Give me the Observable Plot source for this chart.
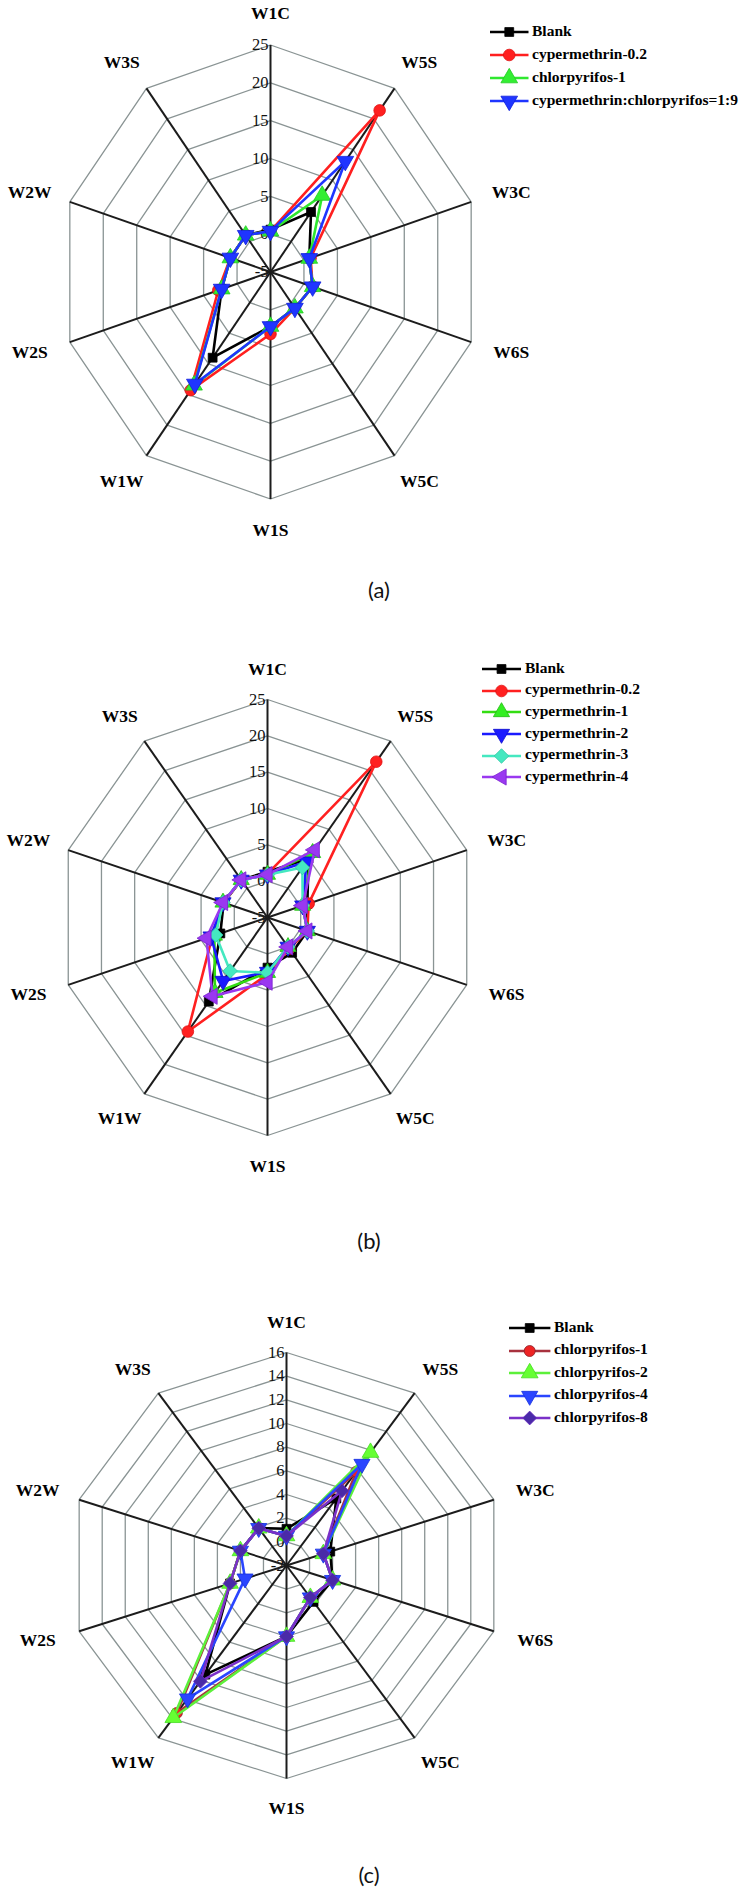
<!DOCTYPE html>
<html><head><meta charset="utf-8">
<script src="https://cdn.jsdelivr.net/npm/d3@7"></script>
<script src="https://cdn.jsdelivr.net/npm/@observablehq/plot@0.6"></script>
<style>
html,body{margin:0;padding:0;background:#fff;}
#root{position:relative;width:744px;height:1887px;overflow:hidden;background:#fff;}
.panel{position:absolute;left:0;width:744px;}
.legrow{position:absolute;white-space:nowrap;font-family:"Liberation Serif",serif;font-weight:bold;font-size:15.5px;color:#000;line-height:16px;}
.caption{position:absolute;font-family:Lato,"Open Sans",sans-serif;font-size:22px;color:#111;transform:translate(-50%,-50%);}
</style></head><body><div id="root"></div>
<script>
// Axis (spoke) labels, clockwise from top
const axisLabels = ["W1C","W5S","W3C","W6S","W5C","W1S","W1W","W2S","W2W","W3S"];

// Panel (a)
const ticksA = [-5, 0, 5, 10, 15, 20, 25];
const namesA = ["Blank","cypermethrin-0.2","chlorpyrifos-1","cypermethrin:chlorpyrifos=1:9"];
const blankA = [0.6, 4.8, 0.8, 1.3, 0.9, 2.2, 9.0, 2.3, 1.0, 1.0];
const cyp02A = [0.4, 21.4, 1.0, 1.3, 0.9, 3.2, 14.3, 2.8, 1.0, 1.0];
const chl1A  = [0.4, 7.5, 0.8, 1.3, 0.9, 2.2, 13.5, 2.3, 1.0, 1.0];
const mixA   = [0.4, 13.1, 0.8, 1.3, 0.9, 2.2, 13.3, 2.3, 1.0, 1.0];

// Panel (b)
const ticksB = [-5, 0, 5, 10, 15, 20, 25];
const namesB = ["Blank","cypermethrin-0.2","cypermethrin-1","cypermethrin-2","cypermethrin-3","cypermethrin-4"];
const blankB = [1.3, 5.0, 1.0, 1.0, 1.0, 1.9, 9.3, 2.1, 1.6, 1.4];
const cyp02B = [1.0, 21.5, 1.2, 1.0, 0.3, 2.8, 14.4, 3.3, 1.6, 1.4];
const cyp1B  = [0.9, 6.0, 0.3, 1.0, 0.0, 2.6, 7.8, 3.0, 1.7, 1.4];
const cyp2B  = [0.9, 4.5, 0.3, 1.0, 0.0, 2.5, 5.8, 3.5, 1.7, 1.4];
const cyp3B  = [0.9, 3.5, 0.3, 1.0, 0.0, 2.6, 4.1, 2.8, 1.7, 1.4];
const cyp4B  = [0.9, 6.5, 0.3, 1.0, 0.0, 3.9, 8.4, 4.2, 1.7, 1.4];

// Panel (c)
const ticksC = [-2, 0, 2, 4, 6, 8, 10, 12, 14, 16];
const namesC = ["Blank","chlorpyrifos-1","chlorpyrifos-2","chlorpyrifos-4","chlorpyrifos-8"];
const blankC = [1.1, 5.0, 1.8, 2.0, 1.8, 4.0, 9.4, 2.9, 2.0, 1.9];
const chl1C  = [0.5, 7.8, 1.2, 2.0, 1.35, 4.0, 13.4, 2.9, 2.0, 1.9];
const chl2C  = [0.5, 9.8, 1.2, 2.0, 1.35, 4.0, 13.9, 2.9, 2.0, 1.9];
const chl4C  = [0.5, 8.6, 1.2, 2.0, 1.35, 4.0, 11.9, 1.6, 2.0, 1.9];
const chl8C  = [0.5, 5.8, 1.2, 2.0, 1.35, 4.0, 10.1, 2.9, 2.0, 1.9];

const captions = ["(a)", "(b)", "(c)"];

// custom marker shapes
const S3 = Math.sqrt(3);
const triDown = {draw(ctx, size){ const R = Math.sqrt(size/(3*S3/4)); const h = R*S3/2;
  ctx.moveTo(0, R); ctx.lineTo(h, -R/2); ctx.lineTo(-h, -R/2); ctx.closePath(); }};
const triUp = {draw(ctx, size){ const R = Math.sqrt(size/(3*S3/4)); const h = R*S3/2;
  ctx.moveTo(0, -R); ctx.lineTo(h, R/2); ctx.lineTo(-h, R/2); ctx.closePath(); }};
const triLeft = {draw(ctx, size){ const R = Math.sqrt(size/(3*S3/4)); const h = R*S3/2;
  ctx.moveTo(-R, 0); ctx.lineTo(R/2, h); ctx.lineTo(R/2, -h); ctx.closePath(); }};
const diamondSq = {draw(ctx, size){ const a = Math.sqrt(size/2);
  ctx.moveTo(0, -a); ctx.lineTo(a, 0); ctx.lineTo(0, a); ctx.lineTo(-a, 0); ctx.closePath(); }};
const squareSym = {draw(ctx, size){ const a = Math.sqrt(size)/2;
  ctx.moveTo(-a, -a); ctx.lineTo(a, -a); ctx.lineTo(a, a); ctx.lineTo(-a, a); ctx.closePath(); }};
const circleSym = d3.symbolCircle;

const panels = [
  {top: 0, h: 646, cx: 270, cy: 271.5, rx: 211, ry: 227, ticks: ticksA,
   leg: {x: 489.5, tx: 532, y0: 31, dy: 23},
   cap: {x: 379, y: 589},
   series: [
     {name: namesA[0], values: blankA, color: "#000000", fill: "#000000", edge: "#000000", symbol: squareSym, r: 5},
     {name: namesA[1], values: cyp02A, color: "#ff1f1f", fill: "#ff2020", edge: "#e01010", symbol: circleSym, r: 5.8},
     {name: namesA[2], values: chl1A, color: "#2fe82f", fill: "#33ee33", edge: "#22cc22", symbol: triUp, r: 6.2},
     {name: namesA[3], values: mixA, color: "#1f35ff", fill: "#1f35ff", edge: "#1020dd", symbol: triDown, r: 6.2}
   ]},
  {top: 646, h: 646, cx: 267, cy: 271, rx: 209.5, ry: 218, ticks: ticksB,
   leg: {x: 482, tx: 525, y0: 21.5, dy: 21.7},
   cap: {x: 369, y: 594},
   series: [
     {name: namesB[0], values: blankB, color: "#000000", fill: "#000000", edge: "#000000", symbol: squareSym, r: 5},
     {name: namesB[1], values: cyp02B, color: "#ff2020", fill: "#ff2020", edge: "#e01010", symbol: circleSym, r: 5.8},
     {name: namesB[2], values: cyp1B, color: "#33dd11", fill: "#33ee22", edge: "#22bb11", symbol: triUp, r: 6},
     {name: namesB[3], values: cyp2B, color: "#1a1aff", fill: "#1a1aff", edge: "#0d0dcc", symbol: triDown, r: 6},
     {name: namesB[4], values: cyp3B, color: "#45e8c0", fill: "#45e8c0", edge: "#30c8a5", symbol: diamondSq, r: 5.8},
     {name: namesB[5], values: cyp4B, color: "#9a38f0", fill: "#9a38f0", edge: "#7a20d0", symbol: triLeft, r: 6}
   ]},
  {top: 1292, h: 595, cx: 286, cy: 273, rx: 218, ry: 213, ticks: ticksC,
   leg: {x: 508.6, tx: 554, y0: 35, dy: 22.4},
   cap: {x: 369, y: 582},
   series: [
     {name: namesC[0], values: blankC, color: "#000000", fill: "#000000", edge: "#000000", symbol: squareSym, r: 5},
     {name: namesC[1], values: chl1C, color: "#a8323e", fill: "#ee2424", edge: "#8a1f28", symbol: circleSym, r: 5.5},
     {name: namesC[2], values: chl2C, color: "#5cf03a", fill: "#66ff33", edge: "#44dd22", symbol: triUp, r: 6.2},
     {name: namesC[3], values: chl4C, color: "#2a45ff", fill: "#2a45ff", edge: "#1530dd", symbol: triDown, r: 6},
     {name: namesC[4], values: chl8C, color: "#7a30c8", fill: "#4a2aa8", edge: "#6a2cc0", symbol: diamondSq, r: 5.5}
   ]}
];

function radar(cfg) {
  const n = axisLabels.length;
  const min = cfg.ticks[0], max = cfg.ticks[cfg.ticks.length - 1], R = max - min;
  const ang = i => 2 * Math.PI * i / n;
  const pt = (i, v) => ({x: (v - min) * Math.sin(ang(i)), y: (v - min) * Math.cos(ang(i))});
  const rings = cfg.ticks.slice(1).flatMap(t => axisLabels.map((a, i) => ({t, ...pt(i, t)})));
  const spokes = axisLabels.map((a, i) => ({a, ...pt(i, max)}));
  const labels = axisLabels.map((a, i) => ({a, x: R * 1.2 * Math.sin(ang(i)), y: R * 1.14 * Math.cos(ang(i))}));
  const tickLabels = cfg.ticks.map(t => ({t, x: 0, y: t - min}));
  const marks = [
    Plot.line(rings, {x: "x", y: "y", z: "t", curve: "linear-closed", stroke: "#8a9494", strokeWidth: 1.3}),
    Plot.text(tickLabels, {x: "x", y: "y", text: d => String(d.t), textAnchor: "end", dx: -2, fontSize: 16.5,
      fontFamily: "Liberation Serif", fill: "#111"}),
    Plot.link(spokes, {x1: () => 0, y1: () => 0, x2: "x", y2: "y", stroke: "#1c1c1c", strokeWidth: 2}),
    Plot.text(labels, {x: "x", y: "y", text: "a", fontSize: 17.5, fontWeight: "bold",
      fontFamily: "Liberation Serif", fill: "#000"})
  ];
  for (const s of cfg.series) {
    const pts = s.values.map((v, i) => pt(i, v));
    marks.push(Plot.line(pts, {x: "x", y: "y", curve: "linear-closed", stroke: s.color, strokeWidth: 2.6}));
    marks.push(Plot.dot(pts, {x: "x", y: "y", symbol: s.symbol, r: s.r, fill: s.fill, stroke: s.edge, strokeWidth: 0.8}));
  }
  return Plot.plot({
    width: 744, height: cfg.h, margin: 0,
    style: {background: "transparent", overflow: "visible"},
    x: {axis: null, domain: [-R, R], range: [cfg.cx - cfg.rx, cfg.cx + cfg.rx]},
    y: {axis: null, domain: [-R, R], range: [cfg.cy + cfg.ry, cfg.cy - cfg.ry]},
    marks
  });
}

const root = document.getElementById("root");
panels.forEach((cfg, k) => {
  const wrap = document.createElement("div");
  wrap.className = "panel";
  wrap.style.top = cfg.top + "px";
  wrap.style.height = cfg.h + "px";
  wrap.appendChild(radar(cfg));
  // legend
  cfg.series.forEach((s, j) => {
    const row = document.createElement("div");
    row.className = "legrow";
    const yc = cfg.leg.y0 + j * cfg.leg.dy;
    row.style.left = cfg.leg.x + "px";
    row.style.top = (yc - 8) + "px";
    const L = cfg.leg.tx - cfg.leg.x - 4;
    const sym = d3.symbol().type(s.symbol).size(Math.PI * s.r * s.r)();
    row.innerHTML = `<svg width="${L}" height="16" style="vertical-align:middle;overflow:visible">
      <line x1="0" x2="${L}" y1="8" y2="8" stroke="${s.color}" stroke-width="2.6"/>
      <path d="${sym}" transform="translate(${L/2},8)" fill="${s.fill}" stroke="${s.edge}" stroke-width="0.8"/></svg>`;
    const t = document.createElement("span");
    t.textContent = s.name;
    t.style.position = "absolute";
    t.style.left = (cfg.leg.tx - cfg.leg.x) + "px";
    t.style.top = "0px";
    row.appendChild(t);
    wrap.appendChild(row);
  });
  const cap = document.createElement("div");
  cap.className = "caption";
  cap.style.left = cfg.cap.x + "px";
  cap.style.top = cfg.cap.y + "px";
  cap.textContent = captions[k];
  wrap.appendChild(cap);
  root.appendChild(wrap);
});
</script></body></html>
